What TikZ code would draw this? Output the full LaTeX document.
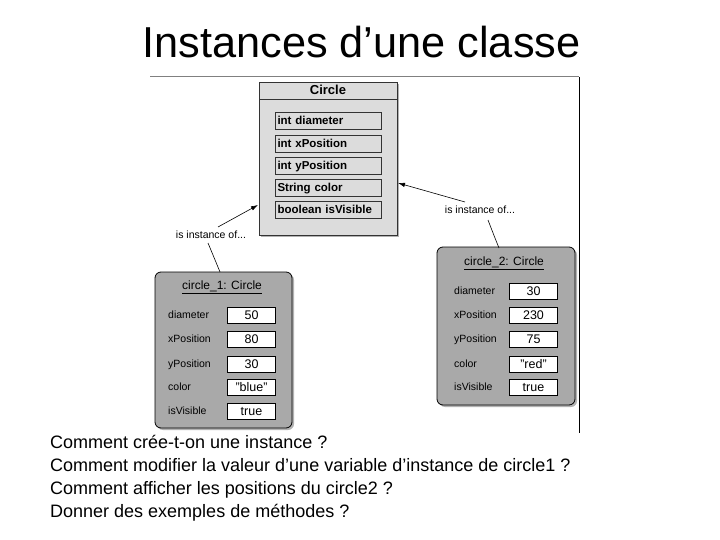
\documentclass[tikz,border=0pt]{standalone}
\usepackage{fontspec}
\setmainfont{Liberation Sans}
\usetikzlibrary{arrows.meta,shadows}
\definecolor{clsfill}{HTML}{DCDCDC}
\definecolor{objfill}{HTML}{A9A9A9}
\definecolor{edge}{HTML}{333333}
\newcommand{\dq}{\symbol{34}}
\tikzset{
  shd/.style={drop shadow={opacity=0.3,shadow xshift=2pt,shadow yshift=-2pt,fill=black}},
  classbox/.style={draw=edge,line width=0.8pt,fill=clsfill,minimum width=138pt,minimum height=153pt,inner sep=0pt,shd},
  fieldbox/.style={draw=edge,line width=1pt,fill=clsfill,minimum width=106pt,minimum height=17pt,inner sep=0pt,
    font=\fontsize{11.5}{13}\selectfont\bfseries,text width=101pt,align=left,text height=8.5pt,text depth=1.5pt},
  objbox/.style={draw=black,line width=0.8pt,fill=objfill,rounded corners=6pt,inner sep=0pt,shd},
  valbox/.style={draw=black,line width=0.6pt,fill=white,minimum width=48pt,minimum height=16pt,inner sep=0pt,
    font=\fontsize{12.5}{14}\selectfont,text height=9pt,text depth=0.5pt},
  attlbl/.style={anchor=west,font=\fontsize{10.5}{12}\selectfont,inner sep=0pt,text height=7.5pt,text depth=1.5pt},
  objtitle/.style={font=\fontsize{12}{14}\selectfont,inner sep=0pt},
  inst/.style={font=\fontsize{10.5}{12}\selectfont,inner sep=1pt},
  arr/.style={line width=0.6pt,-{Latex[length=7pt,width=4.5pt]}},
  lnk/.style={line width=0.6pt},
  question/.style={anchor=base west,font=\fontsize{18}{20}\selectfont,inner sep=0pt},
}
\begin{document}
\begin{tikzpicture}[x=1pt,y=-1pt]
\useasboundingbox (0,0) rectangle (720,540);
% title
\node[font=\fontsize{43.3}{50}\selectfont,anchor=base,inner sep=0pt] (title) at (361.5,58) {Instances d’une classe};
% frame lines
\coordinate (ftl) at (150,77);
\coordinate (ftr) at (579,77);
\coordinate (fbr) at (579,433);
\draw[gray,line width=1pt] (ftl) -- (ftr);
\draw[black,line width=1pt] (ftr) -- (fbr);
% class box
\node[classbox] (cls) at (328,158.5) {};
\draw[edge,line width=0.8pt] (259,99) -- (397,99);
\node[font=\fontsize{13}{14}\selectfont\bfseries,inner sep=0pt] (clsname) at (328,90) {Circle};
\node[fieldbox] (f1) at (328,121.5) {int diameter};
\node[fieldbox] (f2) at (328,144) {int xPosition};
\node[fieldbox] (f3) at (328,166) {int yPosition};
\node[fieldbox] (f4) at (328,188.5) {String color};
\node[fieldbox] (f5) at (328,210.5) {boolean isVisible};
% object 1
\node[objbox,minimum width=137pt,minimum height=156pt] (o1) at (223.5,350) {};
\node[objtitle] (o1t) at (222,287) {\underline{circle\_1: Circle}};
\node[attlbl] (o1l1) at (168,315) {diameter};
\node[attlbl] (o1l2) at (168,339.5) {xPosition};
\node[attlbl] (o1l3) at (168,364) {yPosition};
\node[attlbl] (o1l4) at (168,387.5) {color};
\node[attlbl] (o1l5) at (168,411.5) {isVisible};
\node[valbox] (o1v1) at (251.5,315) {50};
\node[valbox] (o1v2) at (251.5,339.5) {80};
\node[valbox] (o1v3) at (251.5,364) {30};
\node[valbox] (o1v4) at (251.5,387.5) {\dq blue\dq};
\node[valbox] (o1v5) at (251.5,411.5) {true};
% object 2
\node[objbox,minimum width=138pt,minimum height=158pt] (o2) at (506,326) {};
\node[objtitle] (o2t) at (504,263) {\underline{circle\_2: Circle}};
\node[attlbl] (o2l1) at (454,291) {diameter};
\node[attlbl] (o2l2) at (454,315.5) {xPosition};
\node[attlbl] (o2l3) at (454,339.5) {yPosition};
\node[attlbl] (o2l4) at (454,364) {color};
\node[attlbl] (o2l5) at (454,387.5) {isVisible};
\node[valbox] (o2v1) at (533.5,291) {30};
\node[valbox] (o2v2) at (533.5,315.5) {230};
\node[valbox] (o2v3) at (533.5,339.5) {75};
\node[valbox] (o2v4) at (533.5,364) {\dq red\dq};
\node[valbox] (o2v5) at (533.5,387.5) {true};
% is instance of
\node[inst] (i1) at (211,235) {is instance of...};
\node[inst] (i2) at (480,210) {is instance of...};
\coordinate (a1) at (258,205);
\coordinate (a2) at (398,183);
\draw[arr] (218,227) -- (a1);
\draw[arr] (465,202) -- (a2);
\draw[lnk] (208,243) .. controls (213,255) .. (220,272);
\draw[lnk] (488,220) .. controls (493,233) .. (499,248);
% questions
\node[question] (q1) at (50,448) {Comment crée-t-on une instance ?};
\node[question] (q2) at (50,471) {Comment modifier la valeur d’une variable d’instance de circle1 ?};
\node[question] (q3) at (50,494) {Comment afficher les positions du circle2 ?};
\node[question] (q4) at (50,517) {Donner des exemples de méthodes ?};
\end{tikzpicture}
\end{document}
